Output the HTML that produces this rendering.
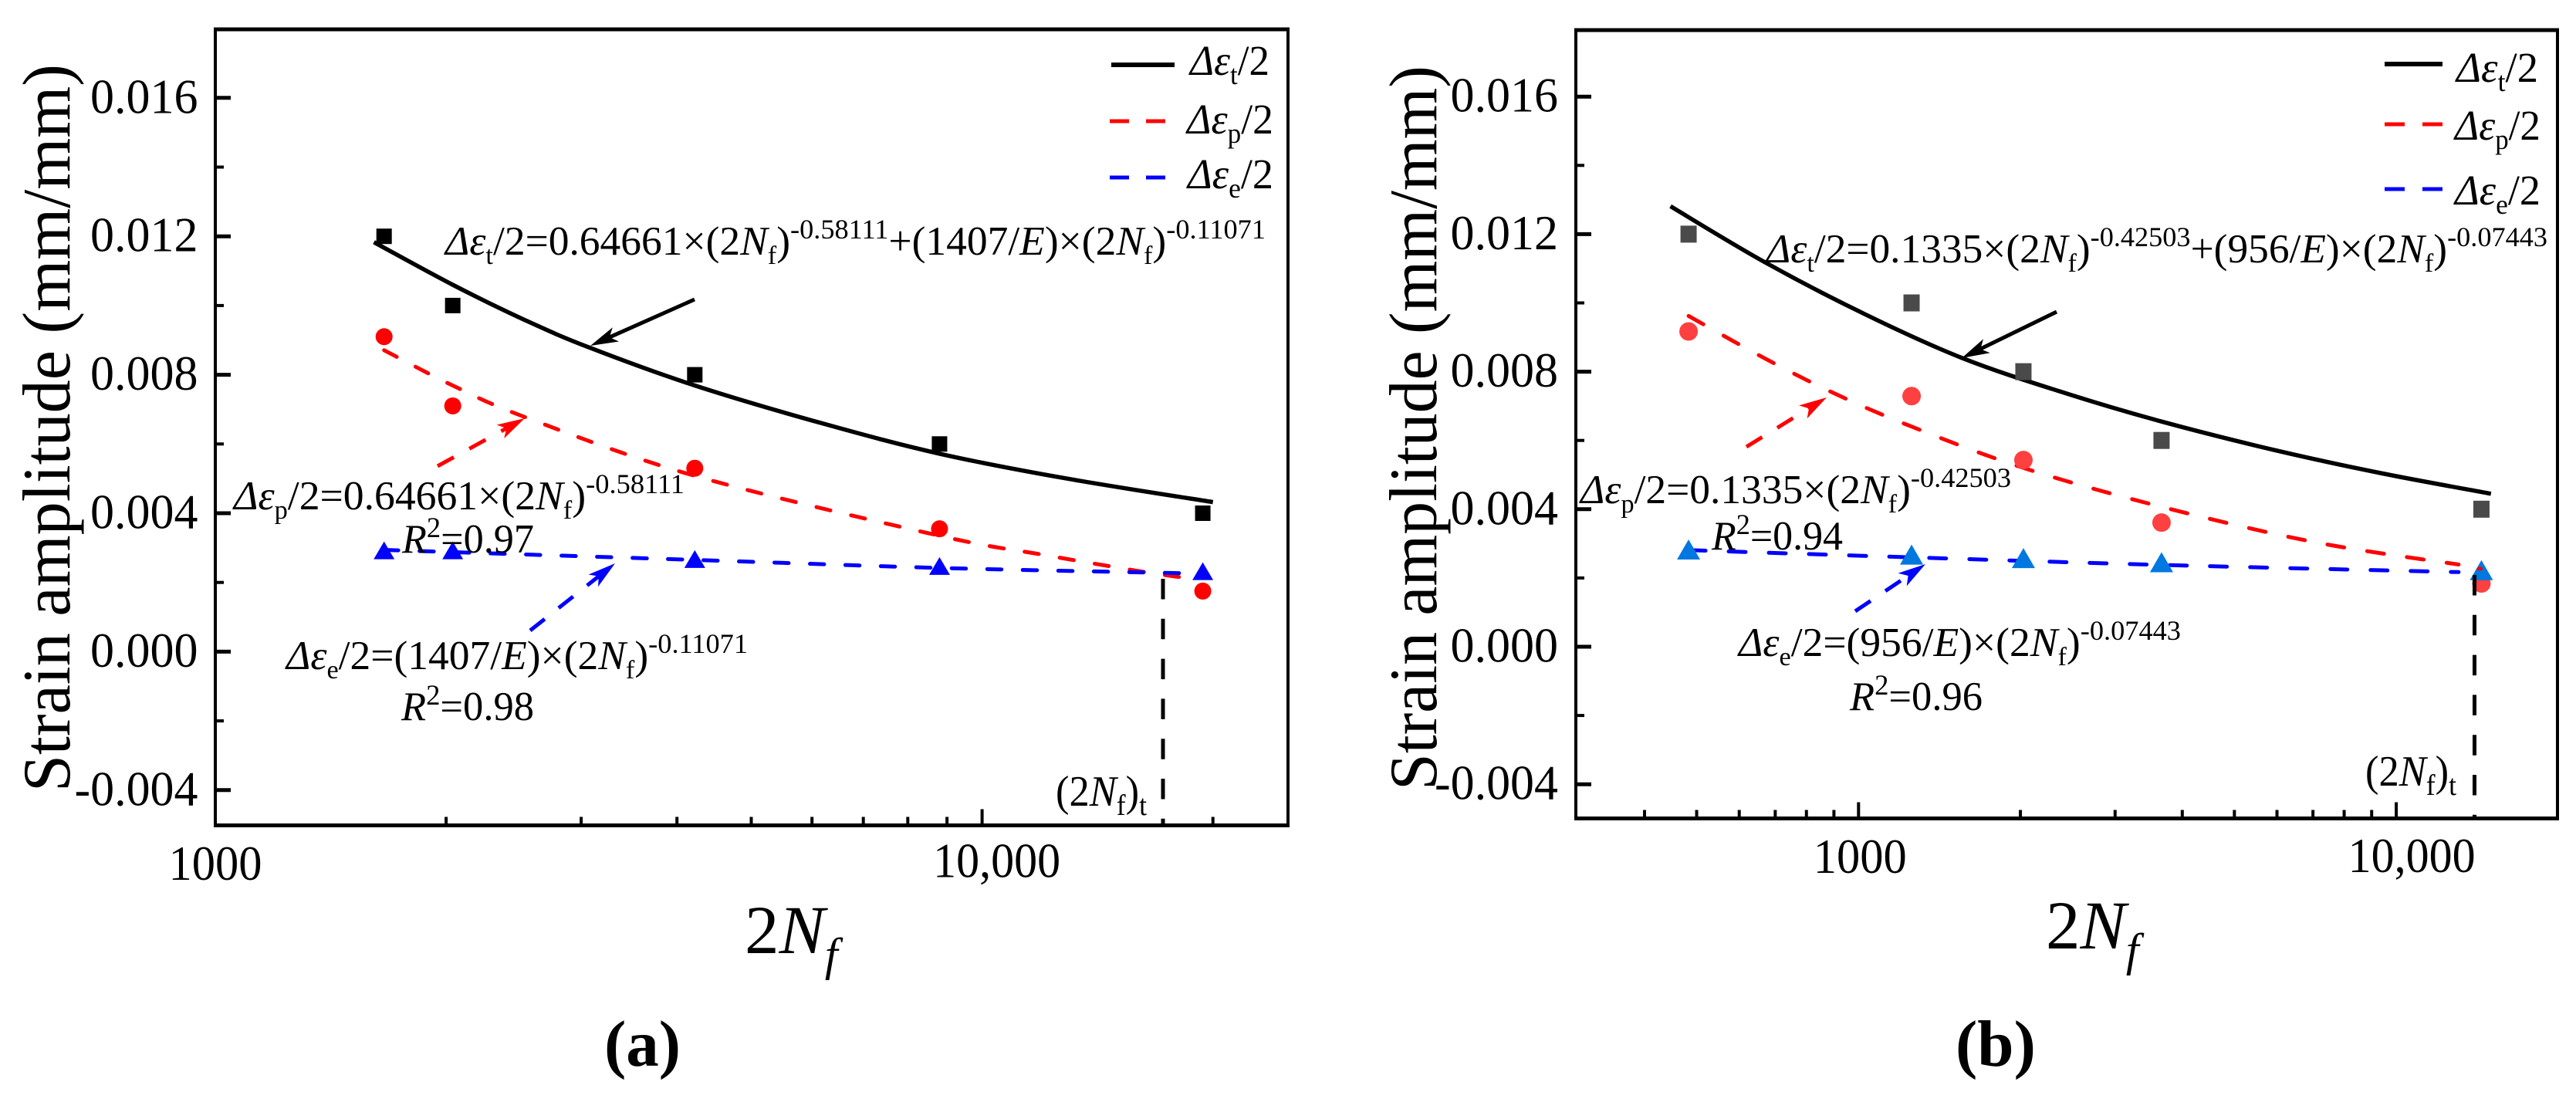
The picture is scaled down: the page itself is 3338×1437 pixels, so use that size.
<!DOCTYPE html>
<html lang="en">
<head>
<meta charset="utf-8">
<title>Strain amplitude vs 2Nf</title>
<style>
html,body{margin:0;padding:0;background:#fff;}
svg{display:block;}
text{font-family:"Liberation Serif",serif;fill:#000;}
.i{font-style:italic;}
</style>
</head>
<body>
<svg id="chart" xmlns="http://www.w3.org/2000/svg" width="3338" height="1437" viewBox="0 0 3338 1437">
<rect x="0" y="0" width="3338" height="1437" fill="#fff"/>
<g id="panel-a"></g>
<g id="panel-b"></g>

<!-- Panel A fixed annotations -->
<g font-size="53">
<text x="577" y="330" textLength="1063" lengthAdjust="spacingAndGlyphs"><tspan class="i">Δε</tspan><tspan font-size="34" dy="12">t</tspan><tspan dy="-12">/2=0.64661×(2</tspan><tspan class="i">N</tspan><tspan font-size="34" dy="12">f</tspan><tspan dy="-12">)</tspan><tspan font-size="36" dy="-21">-0.58111</tspan><tspan dy="21">+(1407/</tspan><tspan class="i">E</tspan><tspan>)×(2</tspan><tspan class="i">N</tspan><tspan font-size="34" dy="12">f</tspan><tspan dy="-12">)</tspan><tspan font-size="36" dy="-21">-0.11071</tspan></text>
<text x="303" y="660" textLength="584" lengthAdjust="spacingAndGlyphs"><tspan class="i">Δε</tspan><tspan font-size="34" dy="12">p</tspan><tspan dy="-12">/2=0.64661×(2</tspan><tspan class="i">N</tspan><tspan font-size="34" dy="12">f</tspan><tspan dy="-12">)</tspan><tspan font-size="36" dy="-21">-0.58111</tspan></text>
<text x="521" y="716" textLength="171" lengthAdjust="spacingAndGlyphs"><tspan class="i">R</tspan><tspan font-size="37" dy="-20">2</tspan><tspan dy="20">=0.97</tspan></text>
<text x="371" y="867" textLength="598" lengthAdjust="spacingAndGlyphs"><tspan class="i">Δε</tspan><tspan font-size="34" dy="12">e</tspan><tspan dy="-12">/2=(1407/</tspan><tspan class="i">E</tspan><tspan>)×(2</tspan><tspan class="i">N</tspan><tspan font-size="34" dy="12">f</tspan><tspan dy="-12">)</tspan><tspan font-size="36" dy="-21">-0.11071</tspan></text>
<text x="520" y="933" textLength="172" lengthAdjust="spacingAndGlyphs"><tspan class="i">R</tspan><tspan font-size="37" dy="-20">2</tspan><tspan dy="20">=0.98</tspan></text>
<text x="1368" y="1044" font-size="56" textLength="118" lengthAdjust="spacingAndGlyphs">(2<tspan class="i">N</tspan><tspan font-size="38" dy="12">f</tspan><tspan dy="-12">)</tspan><tspan font-size="38" dy="12">t</tspan></text>
<text x="1542" y="97" font-size="55" textLength="103" lengthAdjust="spacingAndGlyphs"><tspan class="i">Δε</tspan><tspan font-size="36" dy="12">t</tspan><tspan dy="-12">/2</tspan></text>
<text x="1538" y="173" font-size="55" textLength="112" lengthAdjust="spacingAndGlyphs"><tspan class="i">Δε</tspan><tspan font-size="36" dy="12">p</tspan><tspan dy="-12">/2</tspan></text>
<text x="1539" y="244" font-size="55" textLength="111" lengthAdjust="spacingAndGlyphs"><tspan class="i">Δε</tspan><tspan font-size="36" dy="12">e</tspan><tspan dy="-12">/2</tspan></text>
</g>

<!-- Panel B fixed annotations -->
<g font-size="53">
<text x="2289" y="340" textLength="1012" lengthAdjust="spacingAndGlyphs"><tspan class="i">Δε</tspan><tspan font-size="34" dy="12">t</tspan><tspan dy="-12">/2=0.1335×(2</tspan><tspan class="i">N</tspan><tspan font-size="34" dy="12">f</tspan><tspan dy="-12">)</tspan><tspan font-size="36" dy="-21">-0.42503</tspan><tspan dy="21">+(956/</tspan><tspan class="i">E</tspan><tspan>)×(2</tspan><tspan class="i">N</tspan><tspan font-size="34" dy="12">f</tspan><tspan dy="-12">)</tspan><tspan font-size="36" dy="-21">-0.07443</tspan></text>
<text x="2048" y="652" textLength="558" lengthAdjust="spacingAndGlyphs"><tspan class="i">Δε</tspan><tspan font-size="34" dy="12">p</tspan><tspan dy="-12">/2=0.1335×(2</tspan><tspan class="i">N</tspan><tspan font-size="34" dy="12">f</tspan><tspan dy="-12">)</tspan><tspan font-size="36" dy="-21">-0.42503</tspan></text>
<text x="2218" y="712" textLength="170" lengthAdjust="spacingAndGlyphs"><tspan class="i">R</tspan><tspan font-size="37" dy="-20">2</tspan><tspan dy="20">=0.94</tspan></text>
<text x="2253" y="850" textLength="573" lengthAdjust="spacingAndGlyphs"><tspan class="i">Δε</tspan><tspan font-size="34" dy="12">e</tspan><tspan dy="-12">/2=(956/</tspan><tspan class="i">E</tspan><tspan>)×(2</tspan><tspan class="i">N</tspan><tspan font-size="34" dy="12">f</tspan><tspan dy="-12">)</tspan><tspan font-size="36" dy="-21">-0.07443</tspan></text>
<text x="2397" y="920" textLength="172" lengthAdjust="spacingAndGlyphs"><tspan class="i">R</tspan><tspan font-size="37" dy="-20">2</tspan><tspan dy="20">=0.96</tspan></text>
<text x="3065" y="1018" font-size="56" textLength="118" lengthAdjust="spacingAndGlyphs">(2<tspan class="i">N</tspan><tspan font-size="38" dy="12">f</tspan><tspan dy="-12">)</tspan><tspan font-size="38" dy="12">t</tspan></text>
<text x="3183" y="106" font-size="55" textLength="106" lengthAdjust="spacingAndGlyphs"><tspan class="i">Δε</tspan><tspan font-size="36" dy="12">t</tspan><tspan dy="-12">/2</tspan></text>
<text x="3181" y="181" font-size="55" textLength="111" lengthAdjust="spacingAndGlyphs"><tspan class="i">Δε</tspan><tspan font-size="36" dy="12">p</tspan><tspan dy="-12">/2</tspan></text>
<text x="3181" y="265" font-size="55" textLength="111" lengthAdjust="spacingAndGlyphs"><tspan class="i">Δε</tspan><tspan font-size="36" dy="12">e</tspan><tspan dy="-12">/2</tspan></text>
</g>

<!-- Legend swatches -->
<g fill="none">
<line x1="1440" y1="84" x2="1522" y2="84" stroke="#000" stroke-width="6"/>
<line x1="1438" y1="157" x2="1511" y2="157" stroke="#f00" stroke-width="5" stroke-dasharray="25 22"/>
<line x1="1438" y1="230" x2="1511" y2="230" stroke="#00f" stroke-width="5" stroke-dasharray="25 22"/>
<line x1="3090" y1="83" x2="3165" y2="83" stroke="#000" stroke-width="6"/>
<line x1="3090" y1="161" x2="3165" y2="161" stroke="#f00" stroke-width="5" stroke-dasharray="26 23"/>
<line x1="3090" y1="245" x2="3165" y2="245" stroke="#00f" stroke-width="5" stroke-dasharray="26 23"/>
</g>

<!-- Axis titles -->
<text transform="translate(90,1026) rotate(-90)" font-size="88" textLength="943" lengthAdjust="spacingAndGlyphs">Strain amplitude (mm/mm)</text>
<text transform="translate(1861,1024) rotate(-90)" font-size="88" textLength="939" lengthAdjust="spacingAndGlyphs">Strain amplitude (mm/mm)</text>
<text x="965" y="1235" font-size="89">2<tspan class="i">N</tspan><tspan class="i" font-size="60" dy="22">f</tspan></text>
<text x="2651" y="1229" font-size="89">2<tspan class="i">N</tspan><tspan class="i" font-size="60" dy="22">f</tspan></text>
<text x="783" y="1381" font-size="85" font-weight="bold">(a)</text>
<text x="2534" y="1381" font-size="85" font-weight="bold">(b)</text>
</svg>

<script>
// ---- Shared axis data ----
const yTickValues = [-0.004, 0, 0.004, 0.008, 0.012, 0.016];
const yTickLabels = ["-0.004", "0.000", "0.004", "0.008", "0.012", "0.016"];
const yMinorTicks = [-0.002, 0.002, 0.006, 0.01, 0.014];
const xMajorTicks = [1000, 10000];
const xMajorLabels = ["1000", "10,000"];
const panelAXMinorTicks = [2000, 3000, 4000, 5000, 6000, 7000, 8000, 9000, 20000];
const panelBXMinorTicks = [400, 500, 600, 700, 800, 900, 2000, 3000, 4000, 5000, 6000, 7000, 8000, 9000];

// ---- Panel (a) measurements ----
const panelACycles = [1660, 2040, 4220, 8800, 19400];
const panelATotal = [0.012, 0.01, 0.008, 0.006, 0.004];
const panelAPlastic = [0.0091, 0.0071, 0.0053, 0.00355, 0.00175];
const panelAElastic = [0.0029, 0.0029, 0.00265, 0.00245, 0.0023];
// ---- Panel (a) fitted curves ----
const panelATotalCurveX = [1610, 2040, 2540, 3080, 4220, 6180, 8800, 12900, 20000];
const panelATotalCurveY = [0.01183, 0.0106, 0.00957, 0.00878, 0.00769, 0.0066, 0.00572, 0.005, 0.00432];
const panelAPlasticCurveX = [1660, 2040, 2540, 4220, 8800, 12000, 16200, 18750];
const panelAPlasticCurveY = [0.00871, 0.00769, 0.00677, 0.00508, 0.00335, 0.0028, 0.00231, 0.00211];
const panelAElasticCurveX = [1660, 4220, 8800, 18750];
const panelAElasticCurveY = [0.00294, 0.00265, 0.00242, 0.00226];

// ---- Panel (b) measurements ----
const panelBCycles = [483, 1255, 2026, 3660, 14400];
const panelBTotal = [0.012, 0.01, 0.008, 0.006, 0.004];
const panelBPlastic = [0.00917, 0.00729, 0.00543, 0.00361, 0.00184];
const panelBElastic = [0.0028, 0.00265, 0.00255, 0.00243, 0.0022];
// ---- Panel (b) fitted curves ----
const panelBTotalCurveX = [447, 670, 1022, 1557, 2374, 3660, 5936, 9350, 15000];
const panelBTotalCurveY = [0.01281, 0.01118, 0.00969, 0.0084, 0.00742, 0.00655, 0.00572, 0.00505, 0.00445];
const panelBPlasticCurveX = [483, 658, 887, 1238, 2026, 3660, 7063, 13060];
const panelBPlasticCurveY = [0.00962, 0.00845, 0.00742, 0.00644, 0.0052, 0.00407, 0.00304, 0.00239];
const panelBElasticCurveX = [483, 1255, 3660, 13060];
const panelBElasticCurveY = [0.00281, 0.0026, 0.00238, 0.00217];
// last red dash of the fit shows through the final triangle in panel (b)
const panelBPlasticTailX = [14300];
const panelBPlasticTailY = [0.00227];

const SVGNS = "http://www.w3.org/2000/svg";

function xScaleFactory(logAnchor, pxAnchor, pxPerDecade) {
  return function (v) { return pxAnchor + (Math.log10(v) - logAnchor) * pxPerDecade; };
}
function yScaleFactory(pxAtZero, pxPerUnit) {
  return function (v) { return pxAtZero - v * pxPerUnit; };
}
function make(parent, tag, attrs) {
  const el = document.createElementNS(SVGNS, tag);
  for (const k in attrs) el.setAttribute(k, attrs[k]);
  parent.appendChild(el);
  return el;
}
function smoothPath(pts) {
  let d = "M" + pts[0][0].toFixed(1) + " " + pts[0][1].toFixed(1);
  for (let i = 0; i < pts.length - 1; i++) {
    const p0 = pts[Math.max(i - 1, 0)], p1 = pts[i], p2 = pts[i + 1], p3 = pts[Math.min(i + 2, pts.length - 1)];
    const c1x = p1[0] + (p2[0] - p0[0]) / 6, c1y = p1[1] + (p2[1] - p0[1]) / 6;
    const c2x = p2[0] - (p3[0] - p1[0]) / 6, c2y = p2[1] - (p3[1] - p1[1]) / 6;
    d += "C" + c1x.toFixed(1) + " " + c1y.toFixed(1) + " " + c2x.toFixed(1) + " " + c2y.toFixed(1) + " " + p2[0].toFixed(1) + " " + p2[1].toFixed(1);
  }
  return d;
}

function drawArrow(g, name, x1, y1, x2, y2, color, dashed) {
  const ang = Math.atan2(y2 - y1, x2 - x1);
  const len = 36, wing = 10, notch = 27;
  const ux = Math.cos(ang), uy = Math.sin(ang);
  const line = make(g, "line", {
    x1: x1, y1: y1, x2: x2 - ux * notch, y2: y2 - uy * notch,
    stroke: color, "stroke-width": 5
  });
  if (dashed) line.setAttribute("stroke-dasharray", "24 23");
  
  
  const bx = x2 - ux * len, by = y2 - uy * len;
  const nx = x2 - ux * notch, ny = y2 - uy * notch;
  const head = make(g, "polygon", {
    points: [x2, y2, bx - uy * wing, by + ux * wing, nx, ny, bx + uy * wing, by - ux * wing].map(function (n) { return n.toFixed(1); }).join(" "),
    fill: color
  });
  
  
}

function drawPanel(cfg) {
  const g = document.getElementById(cfg.id);
  const xOf = xScaleFactory(cfg.logAnchor, cfg.pxAnchor, cfg.pxPerDecade);
  const yOf = yScaleFactory(cfg.pxAtZero, cfg.pxPerUnit);
  const p = cfg.prefix;

  // curves
  cfg.curves.forEach(function (c) {
    const pts = c.xs.map(function (x, i) { return [xOf(x), yOf(c.ys[i])]; });
    const path = make(g, "path", {
      d: smoothPath(pts), fill: "none", stroke: c.color, "stroke-width": c.width,
      "stroke-linecap": c.dash ? "round" : "butt"
    });
    if (c.dash) path.setAttribute("stroke-dasharray", c.dash);
    
    
  });

  // markers: squares
  cfg.cycles.forEach(function (x, i) {
    const r = make(g, "rect", {
      x: xOf(x) - cfg.squareW / 2, y: yOf(cfg.total[i]) - cfg.squareH / 2,
      width: cfg.squareW, height: cfg.squareH, fill: cfg.squareColor
    });
    
    
  });
  // markers: circles
  cfg.cycles.forEach(function (x, i) {
    const c = make(g, "circle", {
      cx: xOf(x), cy: yOf(cfg.plastic[i]), r: cfg.circleR, fill: cfg.circleColor
    });
    
    
  });
  // markers: triangles
  cfg.cycles.forEach(function (x, i) {
    const cx = xOf(x), cy = yOf(cfg.elastic[i]);
    const t = make(g, "polygon", {
      points: [cx, cy - cfg.triH * 0.55, cx + cfg.triW / 2, cy + cfg.triH * 0.45, cx - cfg.triW / 2, cy + cfg.triH * 0.45].join(" "),
      fill: cfg.triColor
    });
    
    
  });

  // tail of the plastic fit drawn above the markers
  if (cfg.tailX) {
    cfg.tailX.forEach(function (x, i) {
      const e = make(g, "ellipse", { cx: xOf(x), cy: yOf(cfg.tailY[i]), rx: 4, ry: 2.5, fill: "#f00" });
      
      
    });
  }

  // transition life dashed drop line
  const drop = make(g, "line", {
    x1: cfg.dropX, y1: cfg.dropTop, x2: cfg.dropX, y2: cfg.bottom,
    stroke: "#000", "stroke-width": 5, "stroke-dasharray": "26.5 25.3"
  });
  
  

  // arrows
  cfg.arrows.forEach(function (a) {
    drawArrow(g, p + '-' + a.name + '-arrow', a.from[0], a.from[1], a.to[0], a.to[1], a.color, a.dashed);
  });

  // frame
  const frame = make(g, "g", { fill: "none", stroke: "#000" });
  
  
  make(frame, "line", { x1: cfg.left - 2, y1: cfg.top, x2: cfg.right + 2, y2: cfg.top, "stroke-width": 5 });
  make(frame, "line", { x1: cfg.left - 2, y1: cfg.bottom, x2: cfg.right + 2, y2: cfg.bottom, "stroke-width": 5 });
  make(frame, "line", { x1: cfg.left, y1: cfg.top - 2, x2: cfg.left, y2: cfg.bottom + 2, "stroke-width": 4 });
  make(frame, "line", { x1: cfg.right, y1: cfg.top - 2, x2: cfg.right, y2: cfg.bottom + 2, "stroke-width": 4 });

  // y ticks and labels
  yTickValues.forEach(function (v, i) {
    const y = yOf(v);
    const t = make(g, "line", { x1: cfg.left, y1: y, x2: cfg.left + 20, y2: y, stroke: "#000", "stroke-width": 5 });
    
    
    const label = yTickLabels[i];
    const labelWidth = label.charAt(0) === "-" ? 160 : 139.5;
    const l = make(g, "text", {
      x: cfg.yLabelRight - labelWidth, y: y + 19.5, "font-size": 64,
      textLength: labelWidth, lengthAdjust: "spacingAndGlyphs"
    });
    l.textContent = label;
    
    
  });
  yMinorTicks.forEach(function (v) {
    const y = yOf(v);
    const t = make(g, "line", { x1: cfg.left, y1: y, x2: cfg.left + 11, y2: y, stroke: "#000", "stroke-width": 4 });
    
    
  });

  // x ticks and labels
  xMajorTicks.forEach(function (v, i) {
    const x = xOf(v);
    const t = make(g, "line", { x1: x, y1: cfg.bottom, x2: x, y2: cfg.bottom - 21, stroke: "#000", "stroke-width": 4 });
    
    
    const labelWidth = xMajorLabels[i].length > 4 ? 165 : 121;
    const l = make(g, "text", {
      x: x + cfg.xLabelOffsets[i] - labelWidth / 2, y: cfg.xLabelBaselines[i], "font-size": 64,
      textLength: labelWidth, lengthAdjust: "spacingAndGlyphs"
    });
    l.textContent = xMajorLabels[i];
    
    
  });
  cfg.xMinor.forEach(function (v) {
    const x = xOf(v);
    const t = make(g, "line", { x1: x, y1: cfg.bottom, x2: x, y2: cfg.bottom - 11, stroke: "#000", "stroke-width": 4 });
    
    
  });
}

drawPanel({
  id: "panel-a", prefix: "panel-a",
  left: 279, right: 1669, top: 38, bottom: 1069.5,
  logAnchor: 3, pxAnchor: 279, pxPerDecade: 993.6,
  pxAtZero: 844.4, pxPerUnit: 44850,
  yLabelRight: 256.5,
  xLabelOffsets: [0, 19], xLabelBaselines: [1140, 1136.5],
  xMinor: panelAXMinorTicks,
  cycles: panelACycles, total: panelATotal, plastic: panelAPlastic, elastic: panelAElastic,
  squareW: 20, squareH: 20, squareColor: "#000",
  circleR: 11, circleColor: "#f00",
  triW: 27, triH: 23, triColor: "#00f",
  dropX: 1507, dropTop: 750,
  curves: [
    { name: "total", xs: panelATotalCurveX, ys: panelATotalCurveY, color: "#000", width: 5.5 },
    { name: "plastic", xs: panelAPlasticCurveX, ys: panelAPlasticCurveY, color: "#f00", width: 5, dash: "18.5 27.5" },
    { name: "elastic", xs: panelAElasticCurveX, ys: panelAElasticCurveY, color: "#00f", width: 5, dash: "18.5 27.5" }
  ],
  arrows: [
    { name: "total", from: [900, 388], to: [765, 448], color: "#000" },
    { name: "plastic", from: [567, 604], to: [680, 542], color: "#f00", dashed: true },
    { name: "elastic", from: [687, 817], to: [797, 730], color: "#00f", dashed: true }
  ]
});

drawPanel({
  id: "panel-b", prefix: "panel-b",
  left: 2042, right: 3314, top: 39, bottom: 1060.5,
  logAnchor: 3, pxAnchor: 2408.3, pxPerDecade: 696.8,
  pxAtZero: 838, pxPerUnit: 44550,
  yLabelRight: 2019,
  xLabelOffsets: [2, 20], xLabelBaselines: [1131, 1130],
  xMinor: panelBXMinorTicks,
  cycles: panelBCycles, total: panelBTotal, plastic: panelBPlastic, elastic: panelBElastic,
  tailX: panelBPlasticTailX, tailY: panelBPlasticTailY,
  squareW: 21, squareH: 22, squareColor: "#4a4a4a",
  circleR: 12, circleColor: "#ff4040",
  triW: 30, triH: 26, triColor: "#0078e0",
  dropX: 3206.5, dropTop: 745,
  curves: [
    { name: "total", xs: panelBTotalCurveX, ys: panelBTotalCurveY, color: "#000", width: 5.5 },
    { name: "plastic", xs: panelBPlasticCurveX, ys: panelBPlasticCurveY, color: "#f00", width: 5, dash: "22 30" },
    { name: "elastic", xs: panelBElasticCurveX, ys: panelBElasticCurveY, color: "#00f", width: 5, dash: "22 30" }
  ],
  arrows: [
    { name: "total", from: [2665, 404], to: [2542, 464], color: "#000" },
    { name: "plastic", from: [2263, 579], to: [2367, 515], color: "#f00", dashed: true },
    { name: "elastic", from: [2404, 792], to: [2495, 731], color: "#00f", dashed: true }
  ]
});
</script>
</body>
</html>
